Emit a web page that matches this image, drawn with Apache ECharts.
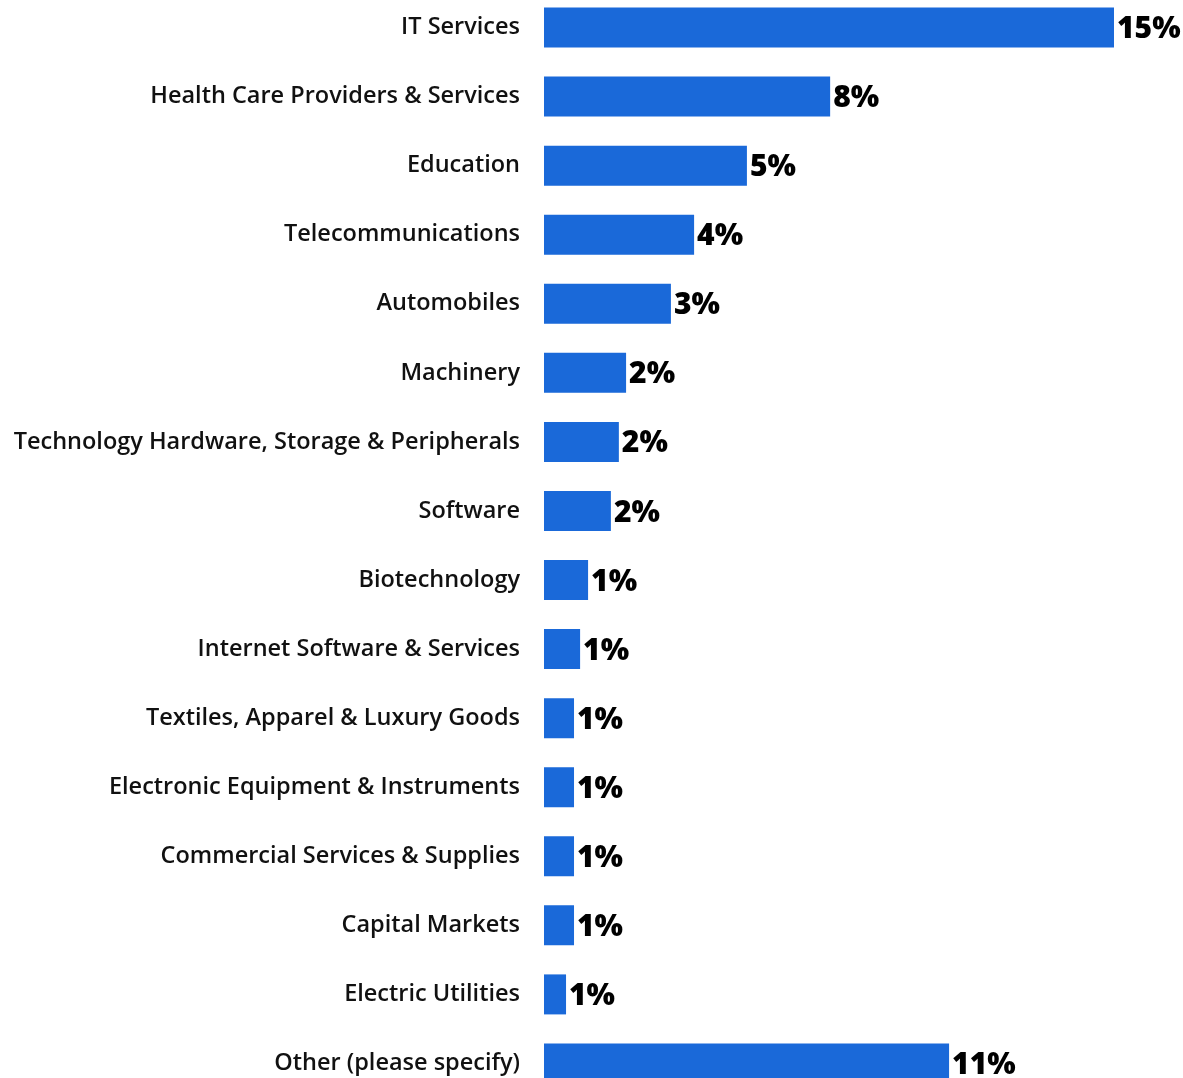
<!DOCTYPE html>
<html><head><meta charset="utf-8">
<script src="https://cdn.jsdelivr.net/npm/echarts@6/dist/echarts.min.js"></script>
<style>html,body{margin:0;padding:0;background:#fff;overflow:hidden;width:1183px;height:1078px;position:relative}#c{position:absolute;left:0;top:-7.5px;width:1183px;height:1105px}</style>
</head><body><div id="c"></div>
<script>
const categories = [
  "IT Services",
  "Health Care Providers & Services",
  "Education",
  "Telecommunications",
  "Automobiles",
  "Machinery",
  "Technology Hardware, Storage & Peripherals",
  "Software",
  "Biotechnology",
  "Internet Software & Services",
  "Textiles, Apparel & Luxury Goods",
  "Electronic Equipment & Instruments",
  "Commercial Services & Supplies",
  "Capital Markets",
  "Electric Utilities",
  "Other (please specify)"
];
const values = [15.0, 7.53, 5.34, 3.95, 3.34, 2.16, 1.97, 1.76, 1.16, 0.95, 0.79, 0.79, 0.79, 0.79, 0.58, 10.66];

const chart = echarts.init(document.getElementById('c'), null, {renderer: 'canvas'});
chart.setOption({
  animation: false,
  grid: {left: 544, right: 69, top: 0, bottom: 0, containLabel: false},
  xAxis: {type: 'value', min: 0, max: 15, show: false},
  yAxis: {
    type: 'category', data: categories, inverse: true,
    axisLine: {show: false}, axisTick: {show: false}, splitLine: {show: false},
    axisLabel: {margin: 24, fontFamily: 'Open Sans', fontWeight: 600, fontSize: 23.5, color: '#111', padding: [4, 0, 0, 0], letterSpacing: 0.2}
  },
  series: [{
    type: 'bar', data: values, barWidth: 40,
    itemStyle: {color: '#1a69d9'},
    label: {show: true, position: 'right', distance: 3, offset: [0, 2],
      formatter: p => Math.round(p.value) + '%',
      fontFamily: 'Open Sans', fontWeight: 800, fontSize: 30, color: '#000', letterSpacing: -1.5}
  }]
});
</script></body></html>
